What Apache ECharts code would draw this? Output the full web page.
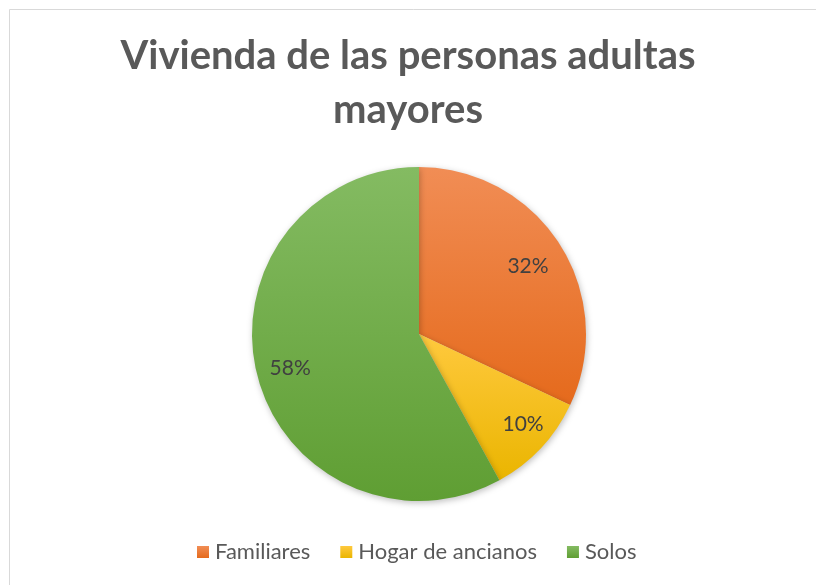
<!DOCTYPE html>
<html>
<head>
<meta charset="utf-8">
<script src="https://cdn.jsdelivr.net/npm/echarts@6/dist/echarts.min.js"></script>
<style>
html,body{margin:0;padding:0;background:#fff;}
#chart{width:816px;height:585px;}
</style>
</head>
<body>
<div id="chart"></div>
<script>
const titleText = 'Vivienda de las personas adultas\nmayores';
const categories = ['Familiares', 'Hogar de ancianos', 'Solos'];
const values = [32, 10, 58];

const gradients = [
  ['#F18D55', '#E56A1C'],
  ['#FFC93E', '#EAB500'],
  ['#84BB62', '#5F9E33']
];
const labelShift = [[36, -21], [41, 31], [-45, 13]];

const chart = echarts.init(document.getElementById('chart'), null, {renderer: 'canvas'});
const fontFam = 'Lato, "Open Sans", sans-serif';

chart.setOption({
  animation: false,
  backgroundColor: '#ffffff',
  graphic: [{
    type: 'rect',
    shape: {x: 9.5, y: 9.5, width: 900, height: 700},
    style: {fill: 'none', stroke: '#d9d9d9', lineWidth: 1},
    silent: true
  }],
  title: {
    text: titleText,
    left: 'center',
    top: 24,
    textStyle: {
      fontFamily: fontFam,
      fontWeight: 'bold',
      fontSize: 40,
      lineHeight: 54,
      color: '#595959'
    }
  },
  legend: {
    data: categories,
    bottom: 17,
    left: 192,
    icon: 'rect',
    itemWidth: 12,
    itemHeight: 12,
    itemGap: 30,
    textStyle: {fontFamily: fontFam, fontSize: 22, color: '#595959', padding: [0, 0, 0, 1]}
  },
  series: [{
    type: 'pie',
    center: [419, 334],
    radius: [0, 167],
    startAngle: 90,
    clockwise: true,
    label: {
      show: true,
      position: 'inside',
      formatter: '{d}%',
      fontFamily: fontFam,
      fontSize: 21,
      color: '#404040'
    },
    labelLine: {show: false},
    labelLayout: function (p) {
      const s = labelShift[p.dataIndex];
      return {dx: s[0], dy: s[1]};
    },
    emphasis: {disabled: true},
    itemStyle: {
      shadowBlur: 6,
      shadowColor: 'rgba(0,0,0,0.25)',
      shadowOffsetX: 1,
      shadowOffsetY: 2
    },
    data: categories.map((c, i) => ({
      name: c,
      value: values[i],
      itemStyle: {
        color: new echarts.graphic.LinearGradient(0, 0, 0, 1, [
          {offset: 0, color: gradients[i][0]},
          {offset: 1, color: gradients[i][1]}
        ])
      }
    }))
  }]
});
</script>
</body>
</html>
